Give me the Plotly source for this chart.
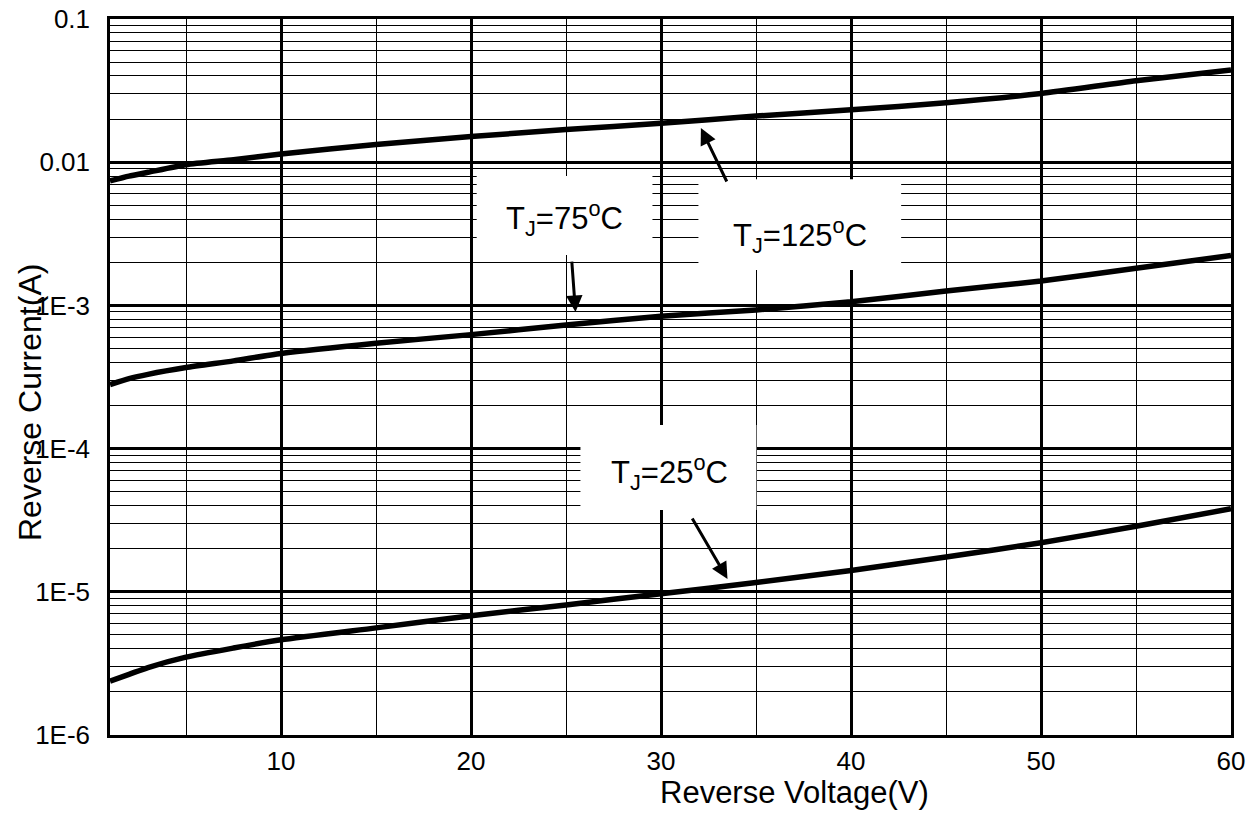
import numpy as np
import plotly.graph_objects as go

# ---------------- data ----------------
voltage = [1, 2, 3, 5, 7.5, 10, 15, 20, 25, 30, 35, 40, 45, 50, 55, 60]
current_125 = [0.0074, 0.0080, 0.0085, 0.0096, 0.0104, 0.0114, 0.0133, 0.0151,
               0.0169, 0.0187, 0.0210, 0.0232, 0.0260, 0.0302, 0.0370, 0.0440]
current_75 = [2.80e-4, 3.08e-4, 3.30e-4, 3.68e-4, 4.10e-4, 4.62e-4, 5.45e-4, 6.25e-4,
              7.30e-4, 8.40e-4, 9.30e-4, 1.06e-3, 1.26e-3, 1.48e-3, 1.82e-3, 2.23e-3]
current_25 = [2.38e-6, 2.65e-6, 2.96e-6, 3.50e-6, 4.05e-6, 4.62e-6, 5.60e-6, 6.80e-6,
              8.10e-6, 9.70e-6, 1.16e-5, 1.41e-5, 1.75e-5, 2.20e-5, 2.87e-5, 3.80e-5]

x_tickvals = [10, 20, 30, 40, 50, 60]
x_minor = [5, 15, 25, 35, 45, 55]
y_tickvals = [1e-6, 1e-5, 1e-4, 1e-3, 1e-2, 1e-1]
y_ticktext = ["1E-6", "1E-5", "1E-4", "1E-3", "0.01", "0.1"]
y_minor = [m * 10.0 ** e for e in range(-6, -1) for m in range(2, 10)]

labels = ["T<sub>J</sub>=125<sup>o</sup>C", "T<sub>J</sub>=75<sup>o</sup>C", "T<sub>J</sub>=25<sup>o</sup>C"]
label_pos = [(37.3, 3.1e-3), (24.9, 4.07e-3), (30.45, 6.76e-5)]
label_box = [(31.97, 42.64, 1.77e-3, 7.6e-3), (20.3, 29.55, 2.25e-3, 8.0e-3), (25.76, 35.02, 3.72e-5, 1.46e-4)]
arrow_tip = [(32.1, 0.0173), (25.5, 9.0e-4), (33.5, 1.23e-5)]
arrow_tail = [(33.5, 0.00716), (25.3, 2.07e-3), (31.6, 3.33e-5)]

FONT = "Arial, Liberation Sans, sans-serif"

fig = go.Figure()
for ys in (current_125, current_75, current_25):
    fig.add_trace(go.Scatter(x=voltage, y=ys, mode="lines",
                             line=dict(color="black", width=5.5, shape="spline", smoothing=0.6),
                             showlegend=False, hoverinfo="skip"))

shapes = []
for (x0, x1, y0, y1) in label_box:
    shapes.append(dict(type="rect", xref="x", yref="y", x0=x0, x1=x1, y0=y0, y1=y1,
                       fillcolor="white", line=dict(width=0), layer="between"))

annotations = []
for txt, (lx, ly) in zip(labels, label_pos):
    annotations.append(dict(x=lx, y=np.log10(ly), xref="x", yref="y", text=txt,
                            showarrow=False, font=dict(family=FONT, size=31, color="black")))
for (tx, ty), (sx, sy) in zip(arrow_tip, arrow_tail):
    annotations.append(dict(x=tx, y=np.log10(ty), xref="x", yref="y",
                            ax=sx, ay=np.log10(sy), axref="x", ayref="y",
                            text="", showarrow=True, arrowhead=2, arrowsize=1.1,
                            arrowwidth=3, arrowcolor="black", standoff=0))
annotations.append(dict(x=-0.0714, y=0.465, xref="paper", yref="paper",
                        text="Reverse Current(A)", textangle=-90, showarrow=False,
                        xanchor="center", yanchor="middle",
                        font=dict(family=FONT, size=32, color="black")))
annotations.append(dict(x=0.611, y=-0.081, xref="paper", yref="paper",
                        text="Reverse Voltage(V)", showarrow=False,
                        xanchor="center", yanchor="middle",
                        font=dict(family=FONT, size=31, color="black")))

fig.update_layout(
    width=1258, height=814,
    margin=dict(l=102, r=35, t=11, b=87, autoexpand=False),
    paper_bgcolor="white", plot_bgcolor="white",
    shapes=shapes, annotations=annotations,
    font=dict(family=FONT, color="black"),
)
fig.update_xaxes(range=[1, 60], tickmode="array", tickvals=x_tickvals,
                 showgrid=True, gridcolor="black", gridwidth=3,
                 minor=dict(tickmode="array", tickvals=x_minor, showgrid=True,
                            gridcolor="black", gridwidth=1.3),
                 showline=True, mirror=True, linecolor="black", linewidth=2.5,
                 zeroline=False, ticks="", ticklabelstandoff=1, automargin=False,
                 ticklabeloverflow="allow",
                 tickfont=dict(family=FONT, size=26, color="black"))
fig.update_yaxes(type="log", range=[-6, -1], tickmode="array",
                 tickvals=y_tickvals, ticktext=y_ticktext,
                 showgrid=True, gridcolor="black", gridwidth=3,
                 minor=dict(tickmode="array", tickvals=y_minor, showgrid=True,
                            gridcolor="black", gridwidth=1.3),
                 showline=True, mirror=True, linecolor="black", linewidth=2.5,
                 zeroline=False, ticks="", ticklabelstandoff=12, automargin=False,
                 ticklabeloverflow="allow",
                 tickfont=dict(family=FONT, size=26, color="black"))

fig.write_html("out.html")
